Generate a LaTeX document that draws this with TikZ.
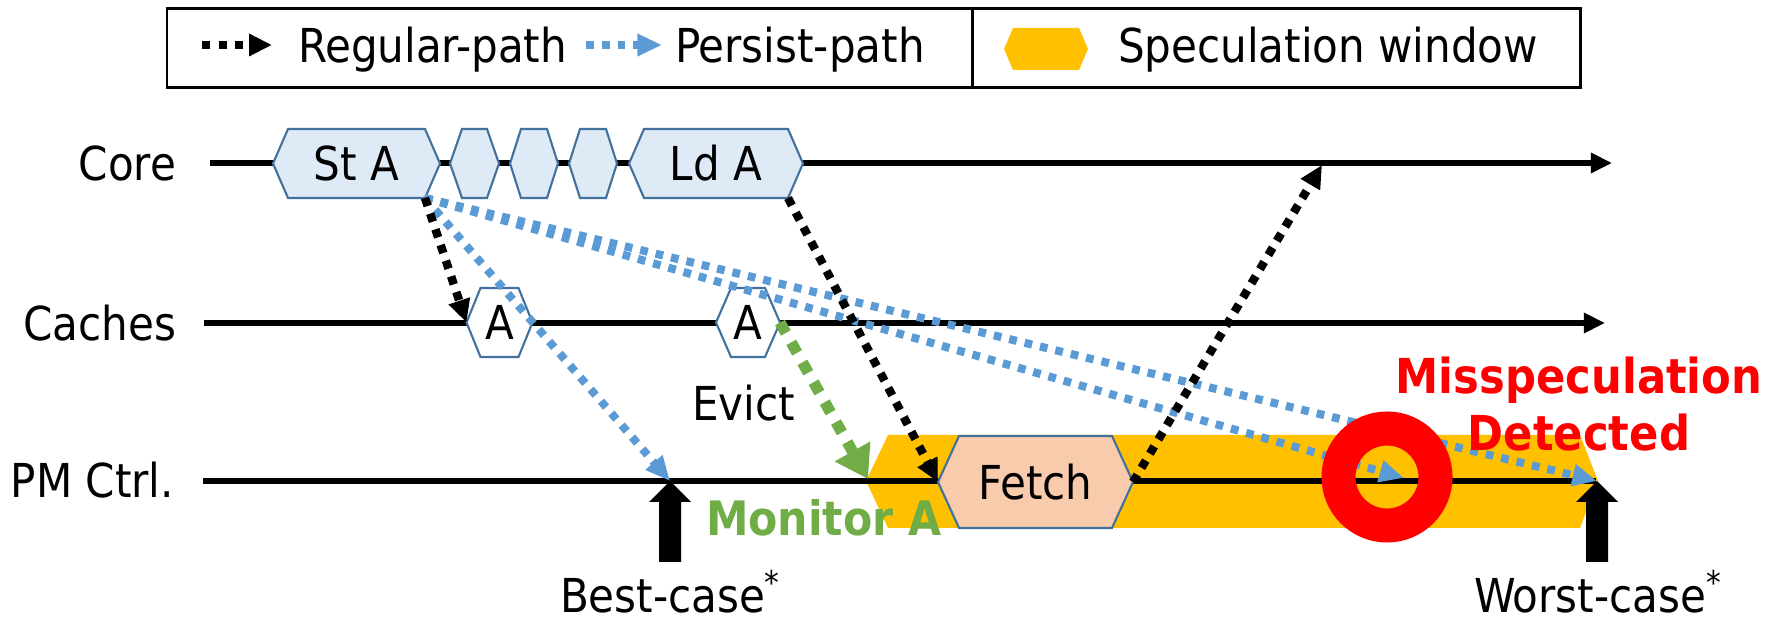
\documentclass[tikz,border=0pt]{standalone}
\usepackage{fontspec}
\setmainfont{DejaVu Sans Condensed}
\usetikzlibrary{arrows.meta,calc}
\definecolor{hexfill}{HTML}{DEEBF7}
\definecolor{hexline}{HTML}{41719C}
\definecolor{specor}{HTML}{FFC000}
\definecolor{fetchfill}{HTML}{F8CBAD}
\definecolor{persist}{HTML}{5B9BD5}
\definecolor{mongreen}{HTML}{70AD47}
\definecolor{misred}{HTML}{FF0000}
% #1 name, #2 cx, #3 cy, #4 half width, #5 half height, #6 indent, #7 style, #8 text
\newcommand\hexnode[8]{%
  \path[#7] ({#2-#4},#3) -- ({#2-#4+#6},{#3-#5}) -- ({#2+#4-#6},{#3-#5}) -- ({#2+#4},#3)
    -- ({#2+#4-#6},{#3+#5}) -- ({#2-#4+#6},{#3+#5}) -- cycle;
  \node[hexlabel, minimum width={2*#4*0.1mm}, minimum height={2*#5*0.1mm}] (#1) at (#2,#3) {#8};
  \coordinate (#1-br) at ({#2+#4-#6},{#3+#5});
}
\begin{document}
\begin{tikzpicture}[x=0.1mm,y=-0.1mm,
  font=\fontsize{13.3}{15}\selectfont,
  hexlabel/.style={inner sep=0pt, outer sep=0pt},
  bluehex/.style={fill=hexfill, draw=hexline, line width=0.6pt},
  whitehex/.style={fill=white, draw=hexline, line width=0.6pt},
  fetchhex/.style={fill=fetchfill, draw=hexline, line width=0.6pt},
  lane/.style={line width=1.5pt},
  lanearrow/.style={lane, -{Triangle[length=6pt,width=5.5pt]}},
  regpath/.style={line width=2.4pt, dash pattern=on 2.4pt off 2.3pt, -{Triangle[length=6.5pt,width=6pt]}},
  perpath/.style={persist, line width=2.3pt, dash pattern=on 2.2pt off 2.3pt, line join=round, -{Triangle[length=7pt,width=6pt]}},
  monpath/.style={mongreen, line width=3.2pt, dash pattern=on 3.4pt off 3.1pt, -{Triangle[length=9pt,width=11pt]}},
  lbl/.style={inner sep=0pt, outer sep=0pt, anchor=base west},
  lblr/.style={inner sep=0pt, outer sep=0pt, anchor=base east},
  bigred/.style={inner sep=0pt, outer sep=0pt, anchor=base, text=misred, font=\fontsize{13.7}{15}\selectfont\bfseries},
]
\useasboundingbox (0,0) rectangle (1774,621);

% ---------- legend ----------
\draw[line width=0.85pt] (167,9) rectangle (1580,88);
\draw[line width=0.85pt] (972,9) -- (972,88);
\coordinate (lgA1) at (202,45); \coordinate (lgA2) at (272,45);
\draw[regpath] (lgA1) -- (lgA2);
\node[lbl] (lgRT) at (298,63) {Regular-path};
\coordinate (lgB1) at (586,45); \coordinate (lgB2) at (662,45);
\draw[perpath] (lgB1) -- (lgB2);
\node[lbl] (lgPT) at (675,63) {Persist-path};
\hexnode{lgHex}{1046}{49}{42}{21}{9}{fill=specor}{}
\node[lbl] (lgST) at (1118,63) {Speculation window};

% ---------- lanes ----------
\node[lblr] (coreL) at (176,181) {Core};
\node[lblr] (cacheL) at (176,341) {Caches};
\node[lblr] (pmL) at (174,498) {PM Ctrl.};
\coordinate (coreS) at (210,163); \coordinate (coreE) at (1612,163);
\coordinate (cacheS) at (204,323); \coordinate (cacheE) at (1605,323);
\coordinate (pmS) at (203,481); \coordinate (pmE) at (1596,481);
\draw[lanearrow] (coreS) -- (coreE);
\draw[lanearrow] (cacheS) -- (cacheE);

% speculation window band
\path[fill=specor] (866,481) -- (888,435) -- (1580,435) -- (1598,481) -- (1580,528) -- (888,528) -- cycle;
\draw[lane] (pmS) -- (pmE);

% ---------- hexagons ----------
\hexnode{stA}{356.5}{163.5}{83.5}{34.5}{15}{bluehex}{St A}
\hexnode{h1}{474.5}{163.5}{24.5}{34.5}{12}{bluehex}{}
\hexnode{h2}{534}{163.5}{24}{34.5}{11}{bluehex}{}
\hexnode{h3}{593}{163.5}{24}{34.5}{11}{bluehex}{}
\hexnode{ldA}{716}{163.5}{87}{34.5}{15}{bluehex}{Ld A}
\hexnode{cA1}{499.5}{322.5}{33}{34.5}{14}{whitehex}{A}
\hexnode{cA2}{748}{322.5}{32}{34.5}{15}{whitehex}{A}
\hexnode{fetch}{1035.5}{482}{97.5}{46}{21}{fetchhex}{Fetch}

% ---------- best / worst markers ----------
\coordinate (best) at (670,481);
\coordinate (worst) at (1597,481);
\coordinate (detect) at (1404,478);
\coordinate (ret) at (1322,165);
\coordinate (monA) at (868,479);
\fill (best) -- ++(21,21) -- ++(-10,0) -- ++(0,60) -- ++(-22,0) -- ++(0,-60) -- ++(-10,0) -- cycle;
\fill (worst) -- ++(21,21) -- ++(-10,0) -- ++(0,60) -- ++(-22,0) -- ++(0,-60) -- ++(-10,0) -- cycle;

% ---------- connectors ----------
\draw[perpath] (stA-br) -- (best);
\draw[perpath] (stA-br) -- (detect);
\draw[perpath] (stA-br) -- (worst);
\draw[regpath] (stA-br) -- (cA1.west);
\draw[regpath] (ldA-br) -- (fetch.west);
\draw[regpath] (fetch.east) -- (ret);
\draw[monpath] (cA2.east) -- (monA);

% misspeculation ring
\node[circle, draw=misred, line width=3.4mm, minimum size=9.7mm, inner sep=0pt] (ring) at (1387,477) {};

% ---------- labels ----------
\node[lbl] (evict) at (692,421) {Evict};
\node[lbl, text=mongreen, font=\fontsize{13.5}{15}\selectfont\bfseries] (monT) at (706,536) {Monitor A};
\node[lbl] (bestT) at (560,613) {Best-case\textsuperscript{*}};
\node[lbl] (worstT) at (1474,613) {Worst-case\textsuperscript{*}};
\node[bigred] (misT1) at (1579,394) {Misspeculation};
\node[bigred] (misT2) at (1579,451) {Detected};
\end{tikzpicture}
\end{document}
